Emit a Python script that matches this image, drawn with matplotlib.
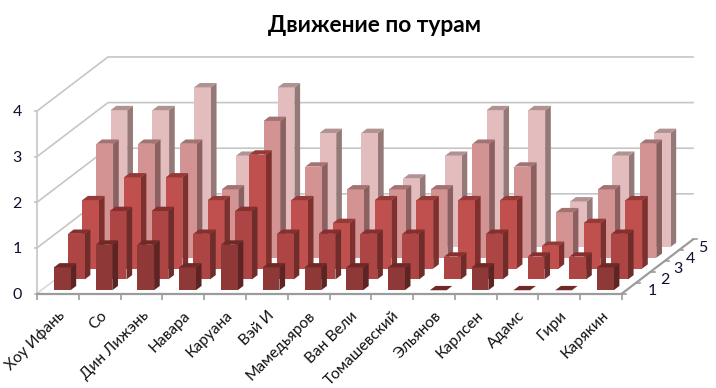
import matplotlib
matplotlib.use("Agg")
import matplotlib.pyplot as plt
from matplotlib.patches import Polygon
from matplotlib.ticker import FixedLocator, NullFormatter, FixedFormatter

plt.rcParams['font.family'] = ['Lato', 'Open Sans', 'DejaVu Sans']

title = "Движение по турам"
players = ["Хоу Ифань", "Со", "Дин Лижэнь", "Навара", "Каруана", "Вэй И", "Мамедьяров",
           "Ван Вели", "Томашевский", "Эльянов", "Карлсен", "Адамс", "Гири", "Карякин"]
rounds = ["1", "2", "3", "4", "5"]
round1 = [0.5, 1, 1, 0.5, 1, 0.5, 0.5, 0.5, 0.5, 0, 0.5, 0, 0, 0.5]
round2 = [1, 1.5, 1.5, 1, 1.5, 1, 1, 1, 1, 0.5, 1, 0.5, 0.5, 1]
round3 = [1.5, 2, 2, 1.5, 2.5, 1.5, 1, 1.5, 1.5, 1.5, 1.5, 0.5, 1, 1.5]
round4 = [2.5, 2.5, 2.5, 1.5, 3, 2, 1.5, 1.5, 1.5, 2.5, 2, 1, 1.5, 2.5]
round5 = [3, 3, 3.5, 2, 3.5, 2.5, 2.5, 1.5, 2, 3, 3, 1, 2, 2.5]
series = [round1, round2, round3, round4, round5]
y_ticks = [0, 1, 2, 3, 4]

front_cols = ["#8E3938", "#AC4543", "#C0504D", "#D39393", "#E3BDBD"]
top_cols = ["#712928", "#872F2E", "#943B39", "#A57272", "#B09292"]
side_cols = ["#5C2423", "#6E2C2B", "#7D302E", "#8B6060", "#957878"]
GRID = "#C6C6C6"
AXIS = "#9C9C9C"
W, H = 716, 388
DX = 14.2 / 41.8   # oblique shift in category units per series step
DY = 10.8 / 45.6   # oblique shift in value units per series step


def proj(c, d, v):
    return (c + d * DX, v + d * DY)


fig = plt.figure(figsize=(W / 100, H / 100), dpi=100, facecolor="white")
ax = fig.add_axes([37 / W, (H - 293.5) / H, 585 / W, 182.5 / H])
n = len(players)
m = len(rounds)
ax.set_xlim(0, n)
ax.set_ylim(0, 4)
ax.patch.set_visible(False)
for s in ("top", "right"):
    ax.spines[s].set_visible(False)
ax.spines["left"].set_color(GRID)
ax.spines["left"].set_linewidth(1.2)
ax.spines["bottom"].set_color(AXIS)
ax.spines["bottom"].set_linewidth(1.6)

# walls
for v in y_ticks[1:]:
    xs, ys = zip(proj(0, 0, v), proj(0, m, v), proj(n, m, v))
    ax.plot(xs, ys, color=GRID, lw=1.2, clip_on=False, zorder=1)
xs, ys = zip(proj(0, 0, 0), proj(0, m, 0))
ax.plot(xs, ys, color="#DADADA", lw=1.2, clip_on=False, zorder=1)

# depth axis
xs, ys = zip(proj(n, 0, 0), proj(n, m, 0))
ax.plot(xs, ys, color=AXIS, lw=1.6, clip_on=False, zorder=2)
for k in range(m + 1):
    a = proj(n, k, 0)
    ax.plot([a[0], a[0] + 0.1], [a[1], a[1]], color=AXIS, lw=1.2, clip_on=False, zorder=2)
for k, lab in enumerate(rounds):
    a = proj(n, k + 0.5, 0)
    ax.annotate(lab, a, xytext=(23 - 1.5 * k, -3), textcoords="offset pixels", fontsize=11.5,
                ha="center", va="center", color="#101030", annotation_clip=False)

# bars, back row first
z = 3
W_BAR = (0.3, 0.7)
for s in range(m - 1, -1, -1):
    d0, d1 = s + 0.3, s + 0.7
    for i, v in enumerate(series[s]):
        c0, c1 = i + W_BAR[0], i + W_BAR[1]
        if v > 0:
            ax.add_patch(Polygon([proj(c1, d0, 0), proj(c1, d1, 0), proj(c1, d1, v), proj(c1, d0, v)],
                                 fc=side_cols[s], ec="none", clip_on=False, zorder=z))
            ax.add_patch(Polygon([proj(c0, d0, 0), proj(c1, d0, 0), proj(c1, d0, v), proj(c0, d0, v)],
                                 fc=front_cols[s], ec="none", clip_on=False, zorder=z))
        ax.add_patch(Polygon([proj(c0, d0, v), proj(c1, d0, v), proj(c1, d1, v), proj(c0, d1, v)],
                             fc=top_cols[s], ec="none", clip_on=False, zorder=z))
    z += 1

# axis ticks and labels
ax.xaxis.set_major_locator(FixedLocator(list(range(n + 1))))
ax.xaxis.set_major_formatter(NullFormatter())
ax.xaxis.set_minor_locator(FixedLocator([i + 0.5 for i in range(n)]))
ax.xaxis.set_minor_formatter(FixedFormatter(players))
ax.tick_params(axis="x", which="major", length=4, width=1.2, color=AXIS, direction="out")
ax.tick_params(axis="x", which="minor", length=0, pad=11, labelsize=11.2, labelcolor="#111111")
for t in ax.get_xticklabels(minor=True):
    t.set_rotation(45)
    t.set_ha("right")
    t.set_va("top")
    t.set_rotation_mode("anchor")
ax.set_yticks(y_ticks)
ax.tick_params(axis="y", length=2, width=1.2, color=GRID, pad=9, labelsize=11.5, labelcolor="#101030")

fig.text(375 / W, 1 - 25 / H, title, fontsize=16.4, fontweight="bold", ha="center", va="center", color="black")
fig.savefig("out.png", dpi=100, facecolor="white")
